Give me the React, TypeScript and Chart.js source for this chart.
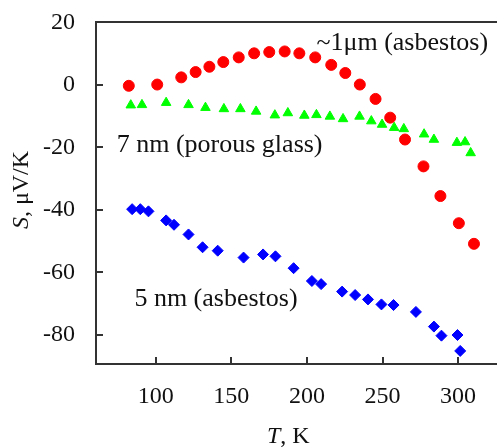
import { useEffect, useRef } from "react";
import { Chart, registerables } from "chart.js";

Chart.register(...registerables);

// ~1 µm (asbestos) — red circles
const tempLarge = [82.2, 101, 116.9, 126.4, 135.5, 144.7, 154.9, 165.1, 175.1, 185.3, 195, 205.5, 216.1, 225.4, 235, 245.4, 255.1, 264.9, 277.1, 288.3, 300.5, 310.5];
const seebeckLarge = [-0.3, 0.1, 2.4, 4.1, 5.8, 7.3, 8.8, 10.1, 10.5, 10.7, 10.1, 8.8, 6.4, 3.8, 0.1, -4.5, -10.5, -17.5, -26.1, -35.6, -44.3, -50.9];

// 7 nm (porous glass) — green triangles
const tempGlass = [83.5, 90.9, 106.9, 121.7, 132.9, 145.1, 156, 166.4, 178.8, 187.4, 198.3, 206.3, 215.2, 223.9, 234.8, 242.6, 249.7, 257.7, 264.1, 277.5, 284, 299.2, 304.6, 308.3];
const seebeckGlass = [-6.5, -6.4, -5.7, -6.4, -7.3, -7.7, -7.7, -8.5, -9.7, -9, -9.8, -9.6, -10.1, -10.9, -10.1, -11.6, -12.7, -13.7, -14.1, -15.8, -17.5, -18.5, -18.3, -21.8];

// 5 nm (asbestos) — blue diamonds
const tempSmall = [84.4, 89.8, 95.2, 106.9, 112.1, 121.7, 131, 141, 158.1, 171, 179.2, 191.2, 203.3, 209.4, 223.3, 231.9, 240.4, 249.3, 257.3, 272.1, 284, 289, 299.6, 301.4];
const seebeckSmall = [-39.8, -39.8, -40.5, -43.4, -44.8, -47.9, -52, -53.1, -55.3, -54.3, -54.9, -58.7, -62.8, -63.8, -66.2, -67.3, -68.7, -70.3, -70.5, -72.7, -77.4, -80.3, -80.1, -85.2];

const xTicks = [100, 150, 200, 250, 300];
const yTicks = [-80, -60, -40, -20, 0, 20];

const seriesLabels = ["~1\u03BCm (asbestos)", "7 nm (porous glass)", "5 nm (asbestos)"];
// anchor (left edge, vertical middle) of each series label, in data units
const labelAnchorT = [206.3, 74.2, 85.9];
const labelAnchorS = [13.4, -19.4, -68.5];

const SERIF = "'Liberation Serif', 'Times New Roman', serif";

function pts(xs: number[], ys: number[]) {
  return xs.map((x, i) => ({ x, y: ys[i] }));
}

const framePlugin = {
  id: "frameAndText",
  afterDraw(chart: any) {
    const { ctx, chartArea } = chart;
    const xs = chart.scales.x;
    const ys = chart.scales.y;
    const left = Math.round(chartArea.left);
    const top = Math.round(chartArea.top);
    const bottom = Math.round(chartArea.bottom);
    const right = Math.round(chartArea.right);
    const lw = 2;
    ctx.save();
    ctx.fillStyle = "#333";
    // frame: top, left, bottom (no right border)
    ctx.fillRect(left, top, right - left, lw);
    ctx.fillRect(left, top, lw, bottom - top);
    ctx.fillRect(left, bottom - lw, right - left, lw);
    // inward ticks
    yTicks.forEach((v) => {
      const py = Math.round(ys.getPixelForValue(v));
      ctx.fillRect(left, py - 1, 8, lw);
    });
    xTicks.forEach((v) => {
      const px = Math.round(xs.getPixelForValue(v));
      ctx.fillRect(px - 1, bottom - 8, lw, 8);
    });

    // series labels
    ctx.fillStyle = "#111";
    ctx.textBaseline = "middle";
    ctx.textAlign = "left";
    ctx.font = `26px ${SERIF}`;
    seriesLabels.forEach((t, i) => {
      ctx.fillText(t, xs.getPixelForValue(labelAnchorT[i]), ys.getPixelForValue(labelAnchorS[i]));
    });

    // axis titles with italic symbols
    const drawMixed = (parts: { t: string; italic: boolean }[], cx: number, cy: number, rot: number) => {
      ctx.save();
      ctx.translate(cx, cy);
      ctx.rotate(rot);
      const widths = parts.map((p) => {
        ctx.font = `${p.italic ? "italic " : ""}24px ${SERIF}`;
        return ctx.measureText(p.t).width;
      });
      const total = widths.reduce((a, b) => a + b, 0);
      let x = -total / 2;
      parts.forEach((p, i) => {
        ctx.font = `${p.italic ? "italic " : ""}24px ${SERIF}`;
        ctx.fillText(p.t, x, 0);
        x += widths[i];
      });
      ctx.restore();
    };
    ctx.textBaseline = "middle";
    ctx.textAlign = "left";
    drawMixed([{ t: "T", italic: true }, { t: ", K", italic: false }], xs.getPixelForValue(187.7), 437, 0);
    drawMixed([{ t: "S", italic: true }, { t: ", \u03BCV/K", italic: false }], 22, 190, -Math.PI / 2);
    ctx.restore();
  },
};

export default function App() {
  const ref = useRef<HTMLCanvasElement | null>(null);
  useEffect(() => {
    if (!ref.current) return;
    const chart = new Chart(ref.current, {
      type: "scatter",
      data: {
        datasets: [
          {
            label: seriesLabels[0],
            data: pts(tempLarge, seebeckLarge),
            pointStyle: "circle",
            radius: 5.5,
            backgroundColor: "#ff0000",
            borderColor: "#ff0000",
            borderWidth: 1,
          },
          {
            label: seriesLabels[1],
            data: pts(tempGlass, seebeckGlass),
            pointStyle: "triangle",
            radius: 5.5,
            backgroundColor: "#00ff00",
            borderColor: "#00ff00",
            borderWidth: 1,
          },
          {
            label: seriesLabels[2],
            data: pts(tempSmall, seebeckSmall),
            pointStyle: "rectRot",
            radius: 5.5,
            backgroundColor: "#0000ff",
            borderColor: "#0000ff",
            borderWidth: 1,
          },
        ],
      },
      options: {
        responsive: false,
        animation: false,
        layout: { padding: { top: 21, left: 0, right: 0, bottom: 0 } },
        plugins: { legend: { display: false }, tooltip: { enabled: false } },
        scales: {
          x: {
            type: "linear",
            min: 59.84,
            max: 325.4,
            grid: { display: false },
            border: { display: false },
            afterBuildTicks: (s: any) => {
              s.ticks = xTicks.map((v) => ({ value: v }));
            },
            afterFit: (s: any) => {
              s.height = 83;
              s.paddingLeft = 0;
              s.paddingRight = 0;
            },
            ticks: {
              maxRotation: 0,
              autoSkip: false,
              padding: 9,
              color: "#111",
              font: { family: SERIF, size: 24 },
            },
          },
          y: {
            type: "linear",
            min: -89.7,
            max: 20.45,
            grid: { display: false },
            border: { display: false },
            afterBuildTicks: (s: any) => {
              s.ticks = yTicks.map((v) => ({ value: v }));
            },
            afterFit: (s: any) => {
              s.width = 95;
              s.paddingTop = 0;
              s.paddingBottom = 0;
            },
            ticks: {
              autoSkip: false,
              padding: 12,
              color: "#111",
              font: { family: SERIF, size: 24 },
            },
          },
        },
      },
      plugins: [framePlugin],
    });
    return () => chart.destroy();
  }, []);
  return (
    <div style={{ position: "fixed", left: 0, top: 0, width: 503, height: 448, background: "#fff" }}>
      <canvas ref={ref} width={503} height={448} />
    </div>
  );
}
